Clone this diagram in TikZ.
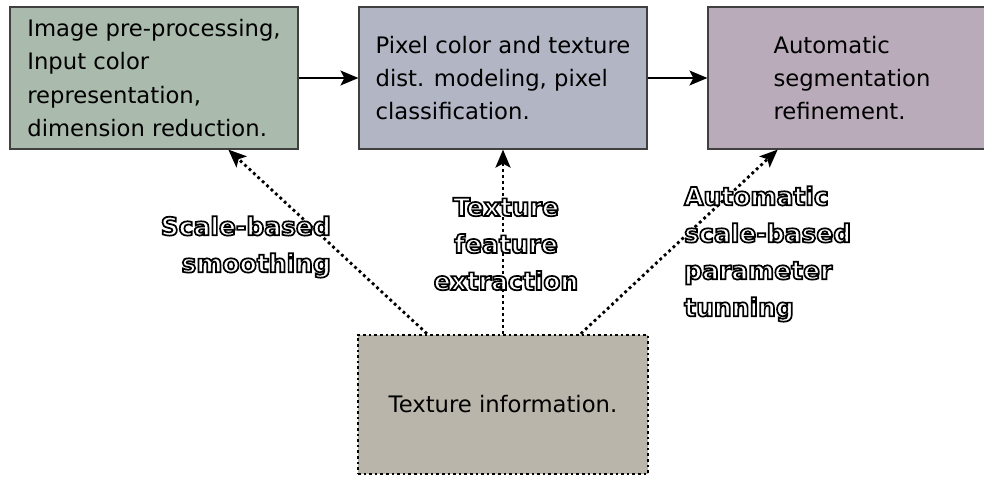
\documentclass[tikz,border=0pt]{standalone}
\usepackage{fontspec}
\setmainfont{DejaVu Sans}
\usetikzlibrary{arrows.meta, calc}
\usepackage{xcolor}
\definecolor{prepcol}{RGB}{170,186,173}
\definecolor{pixcol}{RGB}{178,181,196}
\definecolor{refcol}{RGB}{185,171,186}
\definecolor{infocol}{RGB}{186,181,170}
% white letters with a black rim (fill + stroke render mode)
\newcommand{\halo}[1]{{\color{white}\special{pdf:literal direct 2 Tr 1.7 w 0 0 0 RG}#1\special{pdf:literal direct 0 Tr}}}

\begin{document}
\begin{tikzpicture}[x=1pt, y=-1pt,
  main/.style = {draw=black!75, line width=1.2pt, minimum width=288pt, minimum height=142pt,
                 align=left, inner sep=0pt, font=\fontsize{22.7}{33.3}\selectfont},
  info/.style = {main, draw=black, line width=2.6pt, dash pattern=on 2.6pt off 3pt,
                 minimum width=290pt, minimum height=139pt},
  lab/.style = {inner sep=0pt, font=\bfseries\fontsize{25}{37}\selectfont},
  dots/.style = {line width=2.8pt, dash pattern=on 2.8pt off 3.2pt,
                 -{Stealth[length=18pt, width=15pt, inset=4pt]}}]
      \useasboundingbox (0,0) rectangle (984,476);

      \node[main, fill=prepcol] (1) at (154,78) {Image pre-processing,\\Input color\\representation,\\dimension reduction.};
      \node[main, fill=pixcol]  (2) at (503,78) {Pixel color and texture\\dist. modeling, pixel\\classification.};
      \node[main, fill=refcol]  (3) at (852,78) {Automatic\\segmentation\\refinement.};
      \node[info, fill=infocol] (4) at (503,404.5) {Texture information.};

      \path[line width=1.3pt, -{Stealth[length=18pt, width=15pt, inset=4pt]}]
      (1) edge (2)
      (2) edge (3);

      \draw[dots] ($(4.north west)!0.24!(4.north east)$) -- ($(1.south west)!0.757!(1.south east)$);
      \draw[dots] (4.north) -- (2.south);
      \draw[dots] ($(4.north west)!0.766!(4.north east)$) -- ($(3.south west)!0.243!(3.south east)$);

      \node[lab, align=right, anchor=east] (a) at (331,247) {\halo{Scale-based}\\\halo{smoothing}};
      \node[lab, align=center] (b) at (506,244) {\halo{Texture}\\\halo{feature}\\\halo{extraction}};
      \node[lab, align=left, anchor=west] (c) at (684,254) {\halo{Automatic}\\\halo{scale-based}\\\halo{parameter}\\\halo{tunning}};
    \end{tikzpicture}
\end{document}
